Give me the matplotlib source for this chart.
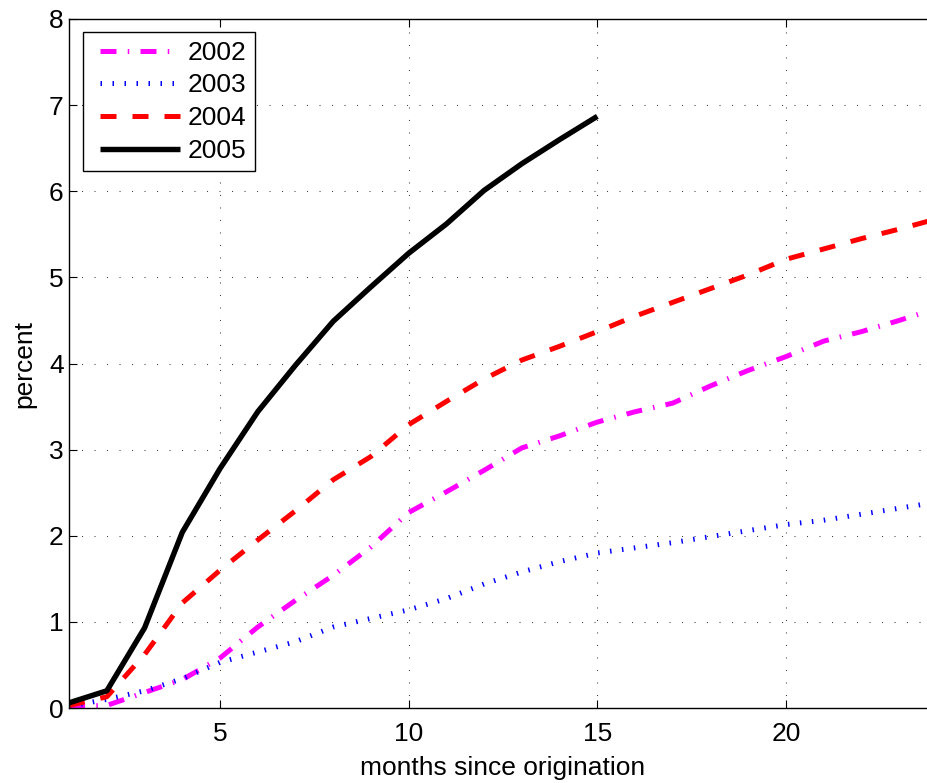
import matplotlib
matplotlib.use("Agg")
import matplotlib.pyplot as plt
from matplotlib.legend_handler import HandlerLine2D

plt.rcParams['font.family'] = ['Liberation Sans', 'DejaVu Sans']

# cumulative share (percent) by months since origination, per vintage
months = list(range(1, 25))
months_2005 = list(range(1, 16))

vintage_2002 = [0.02, 0.03, 0.18, 0.33, 0.58, 0.94, 1.25, 1.54, 1.87, 2.27, 2.51, 2.76,
                3.02, 3.16, 3.32, 3.44, 3.54, 3.74, 3.92, 4.08, 4.26, 4.37, 4.50, 4.64]
vintage_2003 = [0.02, 0.10, 0.20, 0.34, 0.53, 0.65, 0.77, 0.94, 1.04, 1.14, 1.27, 1.44,
                1.58, 1.70, 1.80, 1.86, 1.92, 1.99, 2.06, 2.13, 2.18, 2.25, 2.32, 2.39]
vintage_2004 = [0.03, 0.13, 0.62, 1.22, 1.60, 1.95, 2.29, 2.65, 2.92, 3.29, 3.56, 3.82,
                4.04, 4.20, 4.37, 4.55, 4.71, 4.87, 5.03, 5.21, 5.33, 5.45, 5.56, 5.68]
vintage_2005 = [0.06, 0.20, 0.93, 2.04, 2.78, 3.44, 3.98, 4.49, 4.89, 5.28, 5.62, 6.01,
                6.32, 6.60, 6.87]

labels = ['2002', '2003', '2004', '2005']
x_ticks = [5, 10, 15, 20]
y_ticks = [0, 1, 2, 3, 4, 5, 6, 7, 8]

W, H = 927, 783
FS = 19
fig = plt.figure(figsize=(W / 100, H / 100), dpi=100)

# axes box in pixels: left 69, right 937 (runs past the canvas), top 19, bottom 708
left, right, top, bottom = 69.1, 936.9, 19.0, 708.0
ax = fig.add_axes([left / W, (H - bottom) / H, (right - left) / W, (bottom - top) / H])

lw = 3.6
ax.plot(months, vintage_2002, color='#ff00ff', lw=lw, dashes=(3.2, 2.25, 0.3, 2.25),
        dash_capstyle='butt', label=labels[0])
ax.plot(months, vintage_2003, color='#0000ff', lw=lw, dashes=(0.3, 2.1),
        dash_capstyle='butt', label=labels[1])
ax.plot(months, vintage_2004, color='#ff0000', lw=lw, dashes=(3.2, 3.2),
        dash_capstyle='butt', label=labels[2])
ax.plot(months_2005, vintage_2005, color='black', lw=3.9, solid_capstyle='butt',
        label=labels[3])

ax.set_xlim(1, 24)
ax.set_ylim(0, 8)
ax.set_xticks(x_ticks)
ax.set_yticks(y_ticks)

ax.grid(True, color='0.25', lw=0.75, dashes=(1, 11))
ax.set_axisbelow(True)

for s in ax.spines.values():
    s.set_linewidth(1.0)
    s.set_color('black')

ax.tick_params(direction='in', length=6, width=0.8, labelsize=FS, top=True, right=True,
               colors='black')
ax.tick_params(axis='x', pad=10)
ax.tick_params(axis='y', pad=4)

ax.set_xlabel('months since origination', fontsize=FS, labelpad=7)
ax.set_ylabel('percent', fontsize=FS, labelpad=9)

leg = ax.legend(loc='upper left', bbox_to_anchor=((83.3 - left) / (right - left),
                                                  (bottom - 32.3) / (bottom - top)),
                borderaxespad=0, fontsize=FS, handlelength=3.34, handletextpad=0.3,
                labelspacing=0.33, borderpad=0.32, fancybox=False, framealpha=1,
                edgecolor='black',
                handler_map={plt.Line2D: HandlerLine2D(xpad=0.31)})
leg.get_frame().set_linewidth(1.0)

fig.savefig('out.png', dpi=100)
